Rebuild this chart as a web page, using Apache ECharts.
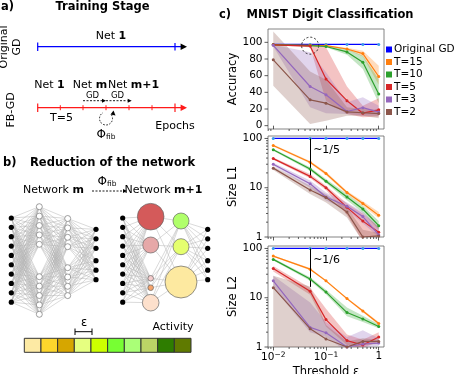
<!DOCTYPE html>
<html>
<head>
<meta charset="utf-8">
<script src="https://cdn.jsdelivr.net/npm/echarts@6/dist/echarts.min.js"></script>
<style>
  html, body { margin: 0; padding: 0; background: #fff; }
  #chart { width: 456px; height: 374px; }
</style>
</head>
<body>
<div id="chart"></div>
<script>
// ---- data ----
const thresholds = [0.01, 0.05, 0.1, 0.25, 0.5, 1];
const seriesNames = ['Original GD', 'T=15', 'T=10', 'T=5', 'T=3', 'T=2'];
const colors = ['#0000ff', '#ff7f0e', '#2ca02c', '#d62728', '#9467bd', '#8c564b'];

// accuracy (%), first row = Original GD, then T=15 .. T=2
const accMean = [
  [97.5, 97.5, 97.5, 97.5, 97.5, 97.5],
  [97, 96.5, 96, 92, 86.5, 59],
  [97, 96, 95, 88.5, 76, 38],
  [97, 95.5, 56, 30, 15, 19],
  [96.4, 47, 37, 17, 21.6, 16.3],
  [79, 31, 27, 16.5, 15.5, 14.5]
];
const accLow = [null,
  [96.5, 96, 95.5, 91, 83, 49],
  [96.5, 95.5, 94, 85, 68, 27],
  [96.5, 94, 30, 14, 10, 11],
  [95, 22, 15, 14, 12, 12],
  [48, 2, 6, 12, 12, 9]
];
const accHigh = [null,
  [98, 97, 96.5, 93.5, 90, 72],
  [98, 96.5, 96, 92, 84, 56],
  [98, 97.5, 94, 47, 24, 33],
  [97, 88, 64, 28, 34, 24],
  [113, 65, 55, 22, 20, 19]
];

// size of hidden layer 1 (neurons)
const l1Mean = [
  [100, 100, 100, 100, 100, 100],
  [72, 33, 19.5, 8, 4.8, 2.75],
  [59, 24, 13.5, 6.5, 3.7, 1.7],
  [39, 17, 10, 4, 2.1, 1.25],
  [30, 12, 6.5, 4.2, 2.6, 1.1],
  [25, 9, 6.3, 3.2, 1.0, 1.05]
];
const l1Low = [null,
  [69, 31, 18, 7.4, 4.3, 2.4],
  [56, 22, 12.5, 5.6, 3.1, 1.4],
  [37, 15.5, 9, 2.8, 0.8, 0.9],
  [28, 10, 5.5, 3.5, 1.9, 1.0],
  [23, 7.5, 5, 2.5, 0.8, 0.9]
];
const l1High = [null,
  [75, 35, 21, 8.6, 5.3, 3.2],
  [62, 26, 15, 7.5, 4.3, 2.1],
  [41, 19, 11, 4.8, 3.0, 1.6],
  [32, 14, 8, 5, 3.2, 1.6],
  [27, 11, 7.5, 4, 1.4, 1.2]
];

// size of hidden layer 2 (neurons)
const l2Mean = [
  [100, 100, 100, 100, 100, 100],
  [70, 38, 22, 9.6, 5.4, 3.0],
  [60, 24, 13, 5.0, 3.7, 2.6],
  [39, 13.5, 3.6, 1.35, 1.1, 1.6],
  [22, 2.5, 1.95, 1.0, 1.15, 1.2],
  [16, 2.35, 1.45, 1.0, 1.3, 1.3]
];
const l2Low = [null,
  [68, 36, 21, 9.2, 5.1, 2.8],
  [57, 22, 11.8, 4.2, 3.2, 2.4],
  [34, 11.5, 2.6, 1.1, 0.95, 1.3],
  [16, 2, 1.6, 0.8, 1.0, 1.05],
  [0.5, 0.5, 0.5, 0.7, 1.1, 1.15]
];
const l2High = [null,
  [72, 40, 23, 10, 5.7, 3.2],
  [63, 26, 14.5, 6.3, 4.3, 2.9],
  [44, 16, 6, 1.8, 1.4, 2.0],
  [28, 8, 3.2, 1.6, 2.2, 1.5],
  [28, 17, 2.8, 1.3, 1.5, 1.4]
];

const xTickLabels = [0.01, 0.1, 1];
const accTickLabels = [0, 20, 40, 60, 80, 100];
const sizeTickLabels = [1, 10, 100];
const activityColors = ['#fdeaa4', '#fdd62c', '#d6a600', '#e6ff80', '#ccff00',
                        '#77ff33', '#aaff77', '#bbd466', '#2e7d00', '#5f7a00'];

// ---- helpers ----
const FONT = '"DejaVu Sans", "Liberation Sans", sans-serif';
const lg = v => Math.log10(v);
const minorLog = (lo, hi) => {
  const out = [];
  for (let d = -3; d <= 2; d++)
    for (let m = 2; m <= 9; m++) {
      const v = lg(m) + d;
      if (v >= lo && v <= hi) out.push(v);
    }
  return out;
};
const X_MIN = -2.1, X_MAX = 0.1;
const SIZE_MAX = 2.05;
const PW = 116;
const grids = [
  { left: 268, top: 29, width: PW, height: 100 },
  { left: 268, top: 136, width: PW, height: 101 },
  { left: 268, top: 246, width: PW, height: 101 }
].map(r => Object.assign({ outerBoundsMode: 'none', show: true, borderColor: '#666', borderWidth: 0.8 }, r));

const xAxes = [];
const yAxes = [];
const tickStyle = { color: '#333', width: 0.8 };
grids.forEach((r, gi) => {
  xAxes.push({
    type: 'value', gridIndex: gi, min: X_MIN, max: X_MAX, position: 'bottom',
    axisLine: { show: false }, splitLine: { show: false },
    axisTick: { show: true, length: 3.5, lineStyle: tickStyle, customValues: xTickLabels.map(lg) },
    axisLabel: {
      show: gi === 2, customValues: xTickLabels.map(lg), margin: 4,
      fontSize: 10.5, fontFamily: FONT, color: '#000',
      formatter: v => Math.abs(v) < 1e-9 ? '1' : '10{s|\u2212' + Math.round(-v) + '}',
      rich: { s: { fontSize: 7.5, fontFamily: FONT, color: '#000', verticalAlign: 'top', padding: [0, 0, 5, 0] } }
    },
    name: gi === 2 ? 'Threshold \u03b5' : '', nameLocation: 'middle', nameGap: 19,
    nameTextStyle: { fontSize: 11.5, fontFamily: FONT, color: '#000' }
  });
});
// y ticks are drawn by the tick series below; the axes only carry labels and names
yAxes.push({
  type: 'value', gridIndex: 0, min: -4, max: 116, position: 'left',
  axisLine: { show: false }, splitLine: { show: false }, axisTick: { show: false },
  axisLabel: { customValues: accTickLabels, fontSize: 10.5, fontFamily: FONT, color: '#000', margin: 5.5 },
  name: 'Accuracy', nameLocation: 'middle', nameGap: 28,
  nameTextStyle: { fontSize: 11.5, fontFamily: FONT, color: '#000' }
});
['Size L1', 'Size L2'].forEach((nm, k) => {
  yAxes.push({
    type: 'value', gridIndex: k + 1, min: 0, max: SIZE_MAX, position: 'left',
    axisLine: { show: false }, splitLine: { show: false }, axisTick: { show: false },
    axisLabel: {
      customValues: sizeTickLabels.map(lg), fontSize: 10.5, fontFamily: FONT, color: '#000', margin: 5.5,
      formatter: v => String(Math.round(Math.pow(10, v)))
    },
    name: nm, nameLocation: 'middle', nameGap: 28,
    nameTextStyle: { fontSize: 11.5, fontFamily: FONT, color: '#000' }
  });
});

const series = [];
// tick marks as short strokes just outside the plot frame
function tickSeries(gi, vals, dir, len, yRef) {
  series.push({
    type: 'custom', xAxisIndex: gi, yAxisIndex: gi, silent: true, z: 2,
    data: vals.map(v => (dir === 'x' ? [v, yRef] : [X_MIN, v])),
    renderItem: (params, api) => {
      const cs = params.coordSys;
      const p = api.coord([api.value(0), api.value(1)]);
      const shape = dir === 'x'
        ? { x1: p[0], y1: cs.y + cs.height, x2: p[0], y2: cs.y + cs.height + len }
        : { x1: cs.x, y1: p[1], x2: cs.x - len, y2: p[1] };
      return { type: 'line', shape, style: { stroke: '#333', lineWidth: 0.8 } };
    }
  });
}
function addPanel(gi, mean, low, high, logY) {
  const tf = v => (logY ? lg(v) : v);
  const xs = thresholds.map(lg);
  for (let k = 1; k < mean.length; k++) {
    const lo = low[k], hi = high[k], c = colors[k];
    series.push({
      type: 'custom', xAxisIndex: gi, yAxisIndex: gi, silent: true, z: 1,
      data: [[xs[0], tf(mean[k][0])]],
      renderItem: (params, api) => {
        const top = xs.map((x, i) => api.coord([x, tf(hi[i])]));
        const bot = xs.map((x, i) => api.coord([x, tf(lo[i])])).reverse();
        const cs = params.coordSys;
        return {
          type: 'polygon', shape: { points: top.concat(bot) },
          style: { fill: c, opacity: 0.28 },
          clipPath: { type: 'rect', shape: { x: cs.x, y: cs.y, width: cs.width, height: cs.height } }
        };
      }
    });
  }
  mean.forEach((row, k) => {
    series.push({
      name: seriesNames[k], type: 'line', xAxisIndex: gi, yAxisIndex: gi,
      data: xs.map((x, i) => [x, tf(row[i])]),
      symbol: 'circle', symbolSize: 3, showSymbol: true, clip: true, z: 3 + k,
      lineStyle: { color: colors[k], width: 1.2 },
      itemStyle: { color: k === 0 ? '#3d9be9' : colors[k] }
    });
  });
  const yRef = logY ? 1 : 50;
  tickSeries(gi, minorLog(X_MIN, X_MAX), 'x', 2, yRef);
  if (logY) {
    tickSeries(gi, sizeTickLabels.map(lg), 'y', 3.5);
    tickSeries(gi, minorLog(0, SIZE_MAX), 'y', 2);
  } else {
    tickSeries(gi, accTickLabels, 'y', 3.5);
  }
}
addPanel(0, accMean, accLow, accHigh, false);
addPanel(1, l1Mean, l1Low, l1High, true);
addPanel(2, l2Mean, l2Low, l2High, true);

// annotations on the plots
const annoLabel = { show: true, color: '#000', fontSize: 11, fontFamily: FONT, position: 'right', distance: 3 };
series.push({
  type: 'scatter', xAxisIndex: 0, yAxisIndex: 0, data: [], silent: true,
  markPoint: {
    symbol: 'circle', symbolSize: 17, silent: true, label: { show: false },
    itemStyle: { color: 'rgba(0,0,0,0)', borderColor: '#000', borderWidth: 0.8, borderType: [2, 2] },
    data: [{ coord: [lg(0.05), 96] }]
  }
});
[[1, 17, '~1/5'], [2, 16.6, '~1/6']].forEach(([gi, tip, text]) => {
  series.push({
    type: 'scatter', xAxisIndex: gi, yAxisIndex: gi, data: [], silent: true, z: 10,
    markLine: {
      silent: true, symbol: ['none', 'arrow'], symbolSize: [0, 6], label: { show: false },
      lineStyle: { color: '#000', width: 1, type: 'solid' },
      data: [[{ coord: [lg(0.05), 2] }, { coord: [lg(0.05), lg(tip)] }]]
    },
    markPoint: {
      symbol: 'circle', symbolSize: 0, silent: true, label: Object.assign({ formatter: text }, annoLabel),
      data: [{ coord: [lg(0.05), 1.77] }]
    }
  });
});

// ---- diagrams (panels a and b) ----
const g = [];
function txt(x, y, text, o) {
  g.push({
    type: 'text', x, y, silent: true, rotation: (o && o.rot) || 0,
    style: Object.assign({
      text, fill: '#000', fontSize: 11, fontFamily: FONT,
      align: 'center', verticalAlign: 'middle'
    }, o && o.style)
  });
}
function line(x1, y1, x2, y2, stroke, w, dash) {
  g.push({ type: 'line', silent: true, shape: { x1, y1, x2, y2 },
    style: { stroke, lineWidth: w || 1, lineDash: dash || null } });
}
function head(x, y, size, fill) {
  // arrowhead pointing right, tip at x,y
  const s = size || 4;
  g.push({ type: 'polygon', silent: true,
    shape: { points: [[x, y], [x - 2 * s, y - s], [x - 2 * s, y + s]] }, style: { fill: fill || '#000' } });
}
const bold = { b: { fontWeight: 'bold', fontSize: 11, fontFamily: FONT } };
const phiRich = { s: { fontSize: 7.5, fontFamily: FONT, verticalAlign: 'bottom', padding: [5, 0, 0, 0] } };

// titles
txt(1, 7, 'a)', { style: { align: 'left', fontWeight: 'bold', fontSize: 11.5 } });
txt(102.5, 7, 'Training Stage', { style: { fontWeight: 'bold', fontSize: 11.5 } });
txt(3, 163, 'b)', { style: { align: 'left', fontWeight: 'bold', fontSize: 11.5 } });
txt(30, 163, 'Reduction of the network', { style: { align: 'left', fontWeight: 'bold', fontSize: 11.5 } });
txt(219, 15, 'c)', { style: { align: 'left', fontWeight: 'bold', fontSize: 11.5 } });
txt(330, 15, 'MNIST Digit Classification', { style: { fontWeight: 'bold', fontSize: 11.5 } });

// panel a: timelines
txt(10.5, 47, 'Original\nGD', { rot: Math.PI / 2, style: { lineHeight: 13 } });
txt(11, 110, 'FB-GD', { rot: Math.PI / 2 });
line(37.7, 46.7, 181, 46.7, '#0000ff', 1.2);
head(187, 46.7, 3.2, '#000');
line(37.7, 42.5, 37.7, 51, '#0000ff', 1.2);
line(175, 43, 175, 50.5, '#0000ff', 1.2);
txt(111, 36, 'Net {b|1}', { style: { rich: bold } });

line(37.7, 107.7, 181, 107.7, '#ff1a1a', 1.2);
head(187, 107.7, 3.2, '#ff1a1a');
[37.7, 175].forEach(x => line(x, 103.5, x, 112, '#ff1a1a', 1.2));
[60.3, 83, 106, 129, 152].forEach(x => line(x, 105.2, x, 110.2, '#ff1a1a', 1));
txt(49.5, 85, 'Net {b|1}', { style: { rich: bold } });
txt(90, 85, 'Net {b|m}', { style: { rich: bold } });
txt(133.5, 85, 'Net {b|m+1}', { style: { rich: bold } });
line(83, 100.7, 102, 100.7, '#000', 0.9, [2, 1.5]);
head(106, 100.7, 2);
line(106, 100.7, 127.5, 100.7, '#000', 0.9, [2, 1.5]);
head(131.7, 100.7, 2);
txt(92.5, 95.5, 'GD', { style: { fontSize: 8.5 } });
txt(117.5, 95.5, 'GD', { style: { fontSize: 8.5 } });
txt(61.5, 118.5, 'T=5');
txt(175, 126, 'Epochs');
g.push({ type: 'arc', silent: true,
  shape: { cx: 106, cy: 118.5, r: 6.5, startAngle: -0.6, endAngle: 1.5 * Math.PI - 0.5, clockwise: true },
  style: { stroke: '#000', fill: null, lineWidth: 0.9, lineDash: [1.5, 1.5] } });
g.push({ type: 'polygon', silent: true, shape: { points: [[113.5, 110.5], [110.5, 114.5], [115.5, 115.5]] }, style: { fill: '#000' } });
txt(106, 135, '\u03a6{s|fib}', { style: { fontSize: 12, rich: phiRich } });

// panel b: networks
txt(53.5, 190, 'Network {b|m}', { style: { rich: bold } });
txt(163.5, 190, 'Network {b|m+1}', { style: { rich: bold } });
line(92, 191, 123, 191, '#000', 0.9, [2, 1.5]);
head(127, 191, 2);
txt(107, 181.5, '\u03a6{s|fib}', { style: { fontSize: 12, rich: phiRich } });

const col = (x, ys) => ys.map(y => ({ x, y }));
const seq = (y0, n, d) => Array.from({ length: n }, (_, i) => y0 + i * d);
const inYs = seq(218, 10, 9.35);
const outYs = seq(229.3, 3, 9.5).concat(seq(260.7, 3, 9.5));
const leftLayers = [
  col(11.3, inYs),
  col(39.3, seq(206.7, 5, 9.4).concat(seq(276.7, 5, 9.4))),
  col(67.7, seq(218.5, 4, 9.4).concat(seq(267.7, 4, 9.3))),
  col(96, outYs)
];
const rightHidden1 = [
  { x: 150.7, y: 216.7, r: 13.3, c: '#d45a5a' },
  { x: 150.7, y: 245, r: 8, c: '#e6a8a8' },
  { x: 150.7, y: 278.3, r: 2.8, c: '#f4cccc' },
  { x: 150.7, y: 287.7, r: 2.8, c: '#f5a46c' },
  { x: 150.7, y: 302.7, r: 8.3, c: '#fde0cc' }
];
const rightHidden2 = [
  { x: 181, y: 221, r: 8, c: '#b0ff6a' },
  { x: 181, y: 246.7, r: 8, c: '#e5ff6e' },
  { x: 181, y: 282, r: 16, c: '#fde9a0' }
];
const rightLayers = [col(122.7, inYs), rightHidden1, rightHidden2, col(207.7, outYs)];
[leftLayers, rightLayers].forEach(layers => {
  for (let l = 0; l < layers.length - 1; l++)
    layers[l].forEach(a => layers[l + 1].forEach(b => line(a.x, a.y, b.x, b.y, '#b4b4b4', 0.5)));
});
const dot = (x, y, r, fill, stroke) => g.push({ type: 'circle', silent: true, shape: { cx: x, cy: y, r },
  style: { fill, stroke: stroke || null, lineWidth: 0.7 } });
[leftLayers, rightLayers].forEach(layers => {
  layers[0].concat(layers[3]).forEach(p => dot(p.x, p.y, 2.6, '#000'));
});
leftLayers[1].concat(leftLayers[2]).forEach(p => dot(p.x, p.y, 3, '#fff', '#777'));
rightHidden1.concat(rightHidden2).forEach(p => dot(p.x, p.y, p.r, p.c, '#666'));

// activity colour bar
const barX0 = 24.3, barW = 16.67;
activityColors.forEach((c, i) => g.push({ type: 'rect', silent: true,
  shape: { x: barX0 + i * barW, y: 338.3, width: barW, height: 14 },
  style: { fill: c, stroke: '#333', lineWidth: 1 } }));
line(75, 331.7, 92, 331.7, '#000', 1);
line(75, 328.5, 75, 335, '#000', 1);
line(92, 328.5, 92, 335, '#000', 1);
txt(84, 323, '\u03b5', { style: { fontSize: 11.5 } });
txt(173, 327, 'Activity');

const chart = echarts.init(document.getElementById('chart'), null, { renderer: 'canvas' });
chart.setOption({
  animation: false,
  backgroundColor: '#fff',
  textStyle: { fontFamily: FONT },
  grid: grids,
  xAxis: xAxes,
  yAxis: yAxes,
  legend: {
    data: seriesNames.map((n, k) => ({ name: n, itemStyle: { color: colors[k] } })),
    orient: 'vertical', left: 381, top: 39,
    itemWidth: 6, itemHeight: 6, itemGap: 1.5, icon: 'rect', selectedMode: false,
    textStyle: { fontSize: 10.5, fontFamily: FONT, color: '#000', padding: [0, 0, 0, -3] }
  },
  series,
  graphic: { elements: g }
});
</script>
</body>
</html>
